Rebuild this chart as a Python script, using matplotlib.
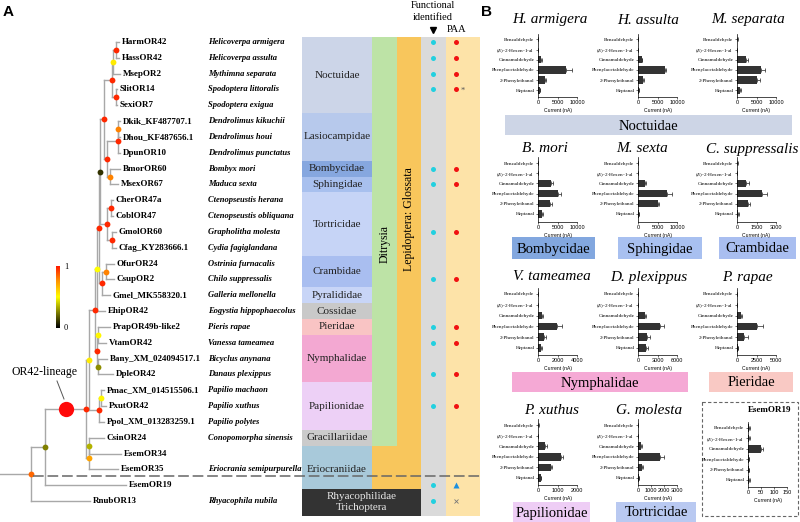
import numpy as np
import matplotlib
matplotlib.use('Agg')
import matplotlib.pyplot as plt
from matplotlib.colors import LinearSegmentedColormap
from matplotlib.patches import Rectangle

plt.rcParams['font.family'] = 'Liberation Serif'
plt.rcParams['mathtext.fontset'] = 'stix'

W, H = 800, 522

# ---------------- panel A data ----------------
leaves = ['HarmOR42', 'HassOR42', 'MsepOR2', 'SlitOR14', 'SexiOR7',
          'Dkik_KF487707.1', 'Dhou_KF487656.1', 'DpunOR10', 'BmorOR60', 'MsexOR67',
          'CherOR47a', 'CoblOR47', 'GmolOR60', 'Cfag_KY283666.1', 'OfurOR24',
          'CsupOR2', 'Gmel_MK558320.1', 'EhipOR42', 'PrapOR49b-like2', 'VtamOR42',
          'Bany_XM_024094517.1', 'DpleOR42', 'Pmac_XM_014515506.1', 'PxutOR42',
          'Ppol_XM_013283259.1', 'CsinOR24', 'EsemOR34', 'EsemOR35', 'EsemOR19', 'RnubOR13']
species = ['Helicoverpa armigera', 'Helicoverpa assulta', 'Mythimna separata',
           'Spodoptera littoralis', 'Spodoptera exigua', 'Dendrolimus kikuchii',
           'Dendrolimus houi', 'Dendrolimus punctatus', 'Bombyx mori', 'Maduca sexta',
           'Ctenopseustis herana', 'Ctenopseustis obliquana', 'Grapholitha molesta',
           'Cydia fagiglandana', 'Ostrinia furnacalis', 'Chilo suppressalis',
           'Galleria mellonella', 'Eogystia hippophaecolus', 'Pieris rapae',
           'Vanessa tameamea', 'Bicyclus anynana', 'Danaus plexippus', 'Papilio machaon',
           'Papilio xuthus', 'Papilio polytes', 'Conopomorpha sinensis', '',
           'Eriocrania semipurpurella', '', 'Rhyacophila nubila']
# tip depth of every leaf (branch end)
tip_x = [119, 119, 120, 117, 117, 120, 120, 120, 120, 118, 113, 113, 116, 116, 114,
         114, 110, 105, 110, 106, 107, 113, 104, 106, 104, 104, 121, 118, 126, 90]

# tree: (depth, support, children)
tree = (31, 0.85, [
    (45, 0.25, [
        (86, 0.97, [
            (88.5, 0.55, [
                (95, 0.97, [
                    (97, 0.5, [
                        (99, 0.97, [
                            (100, 0.1, [
                                (104, 0.97, [
                                    (112, 0.97, [
                                        (113, 0.55, [(116, 0.97, ['HarmOR42', 'HassOR42']), 'MsepOR2']),
                                        (116, 0.97, ['SlitOR14', 'SexiOR7'])]),
                                    (107, 0.97, [
                                        (118, 0.97, [(118, 0.8, ['Dkik_KF487707.1', 'Dhou_KF487656.1']), 'DpunOR10']),
                                        (110, 0.8, ['BmorOR60', 'MsexOR67'])])]),
                                (107, 0.97, [(111, 0.97, ['CherOR47a', 'CoblOR47']),
                                             (112, 0.97, ['GmolOR60', 'Cfag_KY283666.1'])])]),
                            (102, 0.97, [(106, 0.8, ['OfurOR24', 'CsupOR2']), 'Gmel_MK558320.1'])]),
                        'EhipOR42']),
                    (97, 0.97, [(98, 0.52, ['PrapOR49b-like2', 'VtamOR42']),
                                (98, 0.28, ['Bany_XM_024094517.1', 'DpleOR42'])])]),
                (99, 0.97, [(101, 0.52, ['Pmac_XM_014515506.1', 'PxutOR42']), 'Ppol_XM_013283259.1'])]),
            (89, 0.72, [(89, 0.35, ['CsinOR24', 'EsemOR34']), 'EsemOR35'])]),
        'EsemOR19']),
    'RnubOR13'])
lineage_x = 66

families = [('Noctuidae', 0, 4, '#ccd5e8'), ('Lasiocampidae', 5, 7, '#b7c9ec'),
            ('Bombycidae', 8, 8, '#86a7df'), ('Sphingidae', 9, 9, '#a8c0ee'),
            ('Tortricidae', 10, 13, '#c6d4f6'), ('Crambidae', 14, 15, '#a9bef0'),
            ('Pyralididae', 16, 16, '#c8d5f7'), ('Cossidae', 17, 17, '#c9c9c9'),
            ('Pieridae', 18, 18, '#f9c4c4'), ('Nymphalidae', 19, 21, '#f3a8d2'),
            ('Papilionidae', 22, 24, '#edd0f6'), ('Gracillariidae', 25, 25, '#cbcbcb'),
            ('Eriocraniidae', 26, 28, '#a8c9da'), ('Rhyacophilidae\nTrichoptera', 29, 29, '#333333')]
functional = ['HarmOR42', 'HassOR42', 'MsepOR2', 'SlitOR14', 'BmorOR60', 'MsexOR67',
              'GmolOR60', 'CsupOR2', 'PrapOR49b-like2', 'VtamOR42', 'DpleOR42', 'PxutOR42',
              'EsemOR19', 'RnubOR13']
paa = ['red'] * 12 + ['triangle', 'cross']

# ---------------- panel B data ----------------
odorants = ['Benzaldehyde', r'($\mathit{E}$)-2-Hexen-1-al', 'Cinnamaldehyde',
            'Phenylacetaldehyde', '2-Phenylethanol', 'Heptanal']
titles = ['H. armigera', 'H. assulta', 'M. separata', 'B. mori', 'M. sexta',
          'C. suppressalis', 'V. tameamea', 'D. plexippus', 'P. rapae',
          'P. xuthus', 'G. molesta', 'EsemOR19']
values = [
    [30, 20, 850, 7250, 1700, 400],
    [30, 20, 950, 6800, 1350, 170],
    [100, 60, 2400, 6100, 5100, 850],
    [60, 40, 3400, 5100, 3200, 1100],
    [40, 30, 1800, 7400, 5000, 150],
    [30, 20, 720, 1900, 850, 100],
    [30, 20, 400, 1980, 570, 330],
    [40, 30, 1000, 3350, 1400, 1300],
    [30, 20, 500, 2600, 950, 100],
    [20, 15, 370, 1180, 650, 130],
    [20, 15, 250, 1720, 340, 40],
    [5, 5, 49, 2, 2, 4],
]
errors = [
    [20, 20, 150, 1450, 400, 100],
    [20, 10, 150, 300, 150, 50],
    [50, 30, 400, 1100, 800, 150],
    [30, 20, 500, 700, 500, 300],
    [20, 20, 200, 1200, 500, 60],
    [20, 10, 200, 380, 150, 50],
    [20, 10, 100, 440, 200, 60],
    [20, 20, 300, 600, 400, 300],
    [20, 10, 150, 700, 450, 50],
    [10, 10, 80, 100, 50, 40],
    [10, 10, 60, 250, 80, 20],
    [3, 2, 8, 1, 1, 2],
]
xticks = [[0, 5000, 10000]] * 5 + [[0, 1500, 3000], [0, 2000, 4000], [0, 3000, 6000],
          [0, 2500, 5000], [0, 1000, 2000], [0, 1000, 2000, 3000], [0, 50, 100, 150]]
b_families = [('Noctuidae', 505, 115, 792, 135, '#cdd5e6'),
              ('Bombycidae', 512, 237, 595, 259, '#82a7df'),
              ('Sphingidae', 618, 237, 702, 259, '#a8c0f0'),
              ('Crambidae', 719, 237, 796, 259, '#a9bef0'),
              ('Nymphalidae', 512, 372, 688, 392, '#f5a9d5'),
              ('Pieridae', 709, 372, 793, 392, '#f9c9c4'),
              ('Papilionidae', 513, 502, 590, 522, '#eecdf5'),
              ('Tortricidae', 616, 502, 696, 522, '#b9c9f1')]

# ---------------- figure ----------------
fig = plt.figure(figsize=(8, 5.22), dpi=100)
ax = fig.add_axes([0, 0, 1, 1])
ax.set_xlim(0, W)
ax.set_ylim(H, 0)
ax.axis('off')

cmap = LinearSegmentedColormap.from_list(
    'sup', [(0, '#000000'), (0.5, '#ffff00'), (0.78, '#ff8c00'), (1, '#ff1a00')])

dy = 15.83
leaf_y = [42 + i * dy for i in range(len(leaves))]


def node_y(n):
    if isinstance(n, str):
        return leaf_y[leaves.index(n)]
    ys = [node_y(c) for c in n[2]]
    return (ys[0] + ys[-1]) / 2


def node_x(n):
    if isinstance(n, str):
        return tip_x[leaves.index(n)]
    return n[0]


lc = '#a8a8a8'


def draw(n):
    x, sup, kids = n
    ys = [node_y(k) for k in kids]
    ax.plot([x, x], [ys[0], ys[-1]], color=lc, lw=1, zorder=2)
    for k, yk in zip(kids, ys):
        ax.plot([x, node_x(k)], [yk, yk], color=lc, lw=1, zorder=2)
        if not isinstance(k, str):
            draw(k)
    ax.plot(x, node_y(n), 'o', color=cmap(sup), ms=4.2, mec='none', zorder=5)


# colour columns
col_top = leaf_y[0] - 5
edges = [col_top] + [(leaf_y[f[2]] + leaf_y[f[2] + 1]) / 2 for f in families[:-1]] + [leaf_y[-1] + 15]
edges[-2] = leaf_y[28] + 3.5
for (name, i0, i1, c), t, b in zip(families, edges[:-1], edges[1:]):
    right = 421 if name.startswith('Rhyaco') else 372
    ax.add_patch(Rectangle((302, t), right - 302, b - t, color=c, lw=0, zorder=1))
    yc = (t + b) / 2 + (2 if name == 'Eriocraniidae' else 0)
    ax.text((302 + right) / 2, yc, name, ha='center', va='center', fontsize=8,
            color='#e6e6e6' if name.startswith('Rhyaco') else '#222222', linespacing=1.3,
            zorder=3)
grac_bottom = edges[12]
erio_bottom = edges[13]
ax.add_patch(Rectangle((372, col_top), 25, grac_bottom - col_top, color='#bde3a6', lw=0, zorder=1))
ax.add_patch(Rectangle((397, col_top), 24, erio_bottom - col_top, color='#f8c65c', lw=0, zorder=1))
ax.add_patch(Rectangle((372, grac_bottom), 25, erio_bottom - grac_bottom, color='#f8c65c', lw=0, zorder=1))
ax.add_patch(Rectangle((421, col_top), 25, edges[-1] - col_top, color='#dadada', lw=0, zorder=1))
ax.add_patch(Rectangle((446, col_top), 34, edges[-1] - col_top, color='#fde3a8', lw=0, zorder=1))
ax.text(384.5, 244, 'Ditrysia', rotation=90, ha='center',
        va='center', fontsize=8.5, zorder=3)
ax.text(409, 219, 'Lepidoptera: Glossata', rotation=90, ha='center', va='center',
        fontsize=8.5, zorder=3)
ax.text(433, 6, 'Functional', ha='center', va='center', fontsize=7.5)
ax.text(433, 18, 'identified', ha='center', va='center', fontsize=7.5)
ax.plot(433, 30, 'v', color='black', ms=4.5)
ax.text(457, 30, 'PAA', ha='center', va='center', fontsize=7.5)
for name, mark in zip(functional, paa):
    yy = leaf_y[leaves.index(name)]
    ax.plot(433, yy, 'o', color='#22d0e0', ms=3.6, mec='none', zorder=4)
    if mark == 'red':
        ax.plot(456, yy, 'o', color='#f01212', ms=3.6, mec='none', zorder=4)
    elif mark == 'triangle':
        ax.plot(456, yy, '^', color='#1a8fe0', ms=4, mec='none', zorder=4)
    else:
        ax.plot(456, yy, 'x', color='#777777', ms=3, mew=0.6, zorder=4)
ax.text(463, leaf_y[leaves.index('SlitOR14')] + 1, '*', ha='center', va='center',
        fontsize=6, color='#555555', zorder=4)

# tree
root_y = node_y(tree)
ax.plot([0, tree[0]], [root_y, root_y], color=lc, lw=1, zorder=2)
draw(tree)
for i, (lab, sp) in enumerate(zip(leaves, species)):
    ax.text(tip_x[i] + 2.5, leaf_y[i], lab, ha='left', va='center', fontsize=6.5,
            fontweight='bold', zorder=3)
    if sp:
        ax.text(208, leaf_y[i], sp, ha='left', va='center', fontsize=6.1,
                fontweight='bold', style='italic', zorder=3)

# OR42-lineage marker
b_node = tree[2][0][2][0]
ly = node_y(b_node)
ax.plot(lineage_x, ly, 'o', color='#ff0a0a', ms=11, mec='none', zorder=6)
ax.plot([57, 64], [381, 399], color='#555555', lw=0.7)
ax.text(44, 372, 'OR42-lineage', ha='center', va='center', fontsize=8.5)

# dashed separator
ax.plot([33, 480], [476, 476], color='#666666', lw=1.1, ls=(0, (7, 2.5)), zorder=7)

# colour bar of support values
grad = np.linspace(1, 0, 100).reshape(-1, 1)
ax.imshow(grad, cmap=cmap, extent=[56, 60, 328, 266], aspect='auto', zorder=3)
ax.text(64, 267, '1', ha='left', va='center', fontsize=6)
ax.text(64, 328, '0', ha='left', va='center', fontsize=6)

ax.text(8, 12, 'A', ha='center', va='center', fontsize=11, fontweight='bold',
        family='Liberation Sans')
ax.text(487, 12, 'B', ha='center', va='center', fontsize=11, fontweight='bold',
        family='Liberation Sans')

# ---------------- panel B ----------------
for name, x0, y0, x1, y1, c in b_families:
    ax.add_patch(Rectangle((x0, y0), x1 - x0, y1 - y0, color=c, lw=0))
    ax.text((x0 + x1) / 2, (y0 + y1) / 2 + 1, name, ha='center', va='center', fontsize=10.5)
ax.add_patch(Rectangle((702, 402), 96, 114, fill=False, ec='#666666', lw=0.8,
                       ls=(0, (3, 2))))

row_first = [39.3, 163, 294, 425]
row_last = [90.3, 214, 348, 478]
row_axis = [97, 222, 355, 485]
row_title = [20, 149, 277, 410]
col_x = [538, 638, 737]
title_x = [550, 648, 748, 545, 642, 752, 552, 649, 747, 552, 649]

cats = np.arange(len(odorants))
for k in range(len(titles)):
    if k < 11:
        r, c = divmod(k, 3)
        left = col_x[c]
        first, last, axis_y = row_first[r], row_last[r], row_axis[r]
    else:
        left, first, last, axis_y = 748, 428, 480, 487
    sp = (last - first) / 5
    top = first - 0.55 * sp
    bax = fig.add_axes([left / W, 1 - axis_y / H, 39 / W, (axis_y - top) / H])
    bax.barh(cats, values[k], height=0.72, color='#333333')
    bax.errorbar(values[k], cats, xerr=[np.zeros(6), errors[k]], fmt='none',
                 ecolor='#222222', elinewidth=0.5, capsize=1.2, capthick=0.5)
    bax.set_ylim(5 + (axis_y - last) / sp, -0.55)
    bax.set_xlim(0, xticks[k][-1])
    bax.set_xticks(xticks[k])
    bax.set_xticklabels([str(v) for v in xticks[k]], fontsize=4, family='Liberation Sans')
    bax.set_yticks(cats)
    bax.set_yticklabels(odorants, fontsize=3.8)
    bax.tick_params(length=1.5, width=0.4, pad=1)
    for s in ['top', 'right']:
        bax.spines[s].set_visible(False)
    for s in ['left', 'bottom']:
        bax.spines[s].set_linewidth(0.5)
    bax.patch.set_alpha(0)
    bax.set_xlabel('Current (nA)', fontsize=3.6, family='Liberation Sans', labelpad=1.5)
    if k < 11:
        ax.text(title_x[k], row_title[r], titles[k], ha='center', va='center',
                fontsize=11, style='italic')
    else:
        ax.text(770, 410, titles[k], ha='center', va='center', fontsize=6.5,
                fontweight='bold')

fig.savefig('out.png', dpi=100)
